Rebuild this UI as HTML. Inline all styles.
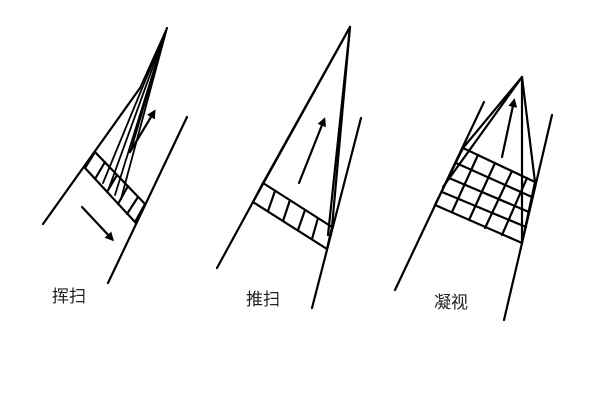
<!DOCTYPE html>
<html><head><meta charset="utf-8"><style>
html,body{margin:0;padding:0;background:#fff;width:600px;height:400px;overflow:hidden}
svg{display:block}
text{font-family:"Liberation Sans","Noto Sans CJK SC",sans-serif;font-size:17px;fill:#222}
</style></head><body>
<svg width="600" height="400" viewBox="0 0 600 400" xmlns="http://www.w3.org/2000/svg">
<defs><marker id="a" markerWidth="9" markerHeight="9" refX="6" refY="4.5" orient="auto" markerUnits="userSpaceOnUse" viewBox="0 0 9 9"><path d="M0,0 L9,4.5 L0,9 z" fill="#000"/></marker></defs>
<g stroke="#000" stroke-width="2.2" fill="none" stroke-linecap="round">
<!-- panel 1 -->
<line x1="43" y1="224" x2="140" y2="88"/>
<line x1="108" y1="283" x2="187" y2="117"/>
<polygon points="95,152 145,204 135,222 85,168"/>
<line x1="105" y1="162" x2="95" y2="179"/>
<line x1="117" y1="175" x2="107" y2="192"/>
<line x1="128" y1="186" x2="118" y2="204"/>
<line x1="138" y1="197" x2="127" y2="214"/>
<g stroke-width="1.8">
<line x1="167" y1="28" x2="140" y2="88"/>
<line x1="167" y1="28" x2="103" y2="183"/>
<line x1="167" y1="28" x2="109" y2="188"/>
<line x1="167" y1="28" x2="115" y2="195"/>
<line x1="167" y1="28" x2="121" y2="199"/>
<line x1="167" y1="28" x2="131" y2="150"/>
</g>
<line x1="130" y1="152" x2="154" y2="112" marker-end="url(#a)"/>
<line x1="82" y1="207" x2="112" y2="239" marker-end="url(#a)"/>
<!-- panel 2 -->
<line x1="217" y1="268" x2="253" y2="202"/>
<line x1="253" y1="202" x2="350" y2="27"/>
<line x1="263" y1="183" x2="350" y2="27"/>
<line x1="312" y1="308" x2="361" y2="118"/>
<polygon points="263,183 332,227 327,249 253,202"/>
<line x1="275" y1="191" x2="268" y2="211"/>
<line x1="290" y1="200" x2="283" y2="221"/>
<line x1="305" y1="210" x2="298" y2="230"/>
<line x1="318" y1="218" x2="312" y2="239"/>
<line x1="350" y1="27" x2="332" y2="227"/>
<line x1="350" y1="27" x2="328" y2="235"/>
<line x1="299" y1="183" x2="324" y2="120" marker-end="url(#a)"/>
<!-- panel 3 -->
<line x1="395" y1="290" x2="484" y2="102"/>
<line x1="504" y1="320" x2="552" y2="115"/>
<polygon points="463,148 535,182 522,243 435,205"/>
<line x1="456" y1="163" x2="532" y2="197"/>
<line x1="449" y1="178" x2="529" y2="212"/>
<line x1="442" y1="192" x2="526" y2="227"/>
<line x1="478" y1="155" x2="452" y2="212"/>
<line x1="495" y1="163" x2="469" y2="220"/>
<line x1="512" y1="171" x2="485" y2="228"/>
<line x1="527" y1="178" x2="502" y2="235"/>
<line x1="522" y1="77" x2="463" y2="148"/>
<line x1="522" y1="77" x2="443" y2="187"/>
<line x1="522" y1="77" x2="522" y2="243"/>
<line x1="522" y1="77" x2="535" y2="182"/>
<line x1="502" y1="157" x2="514" y2="101" marker-end="url(#a)"/>
</g>
<text x="52" y="302">挥扫</text>
<text x="246" y="305">推扫</text>
<text x="434" y="308">凝视</text>
</svg>
</body></html>
